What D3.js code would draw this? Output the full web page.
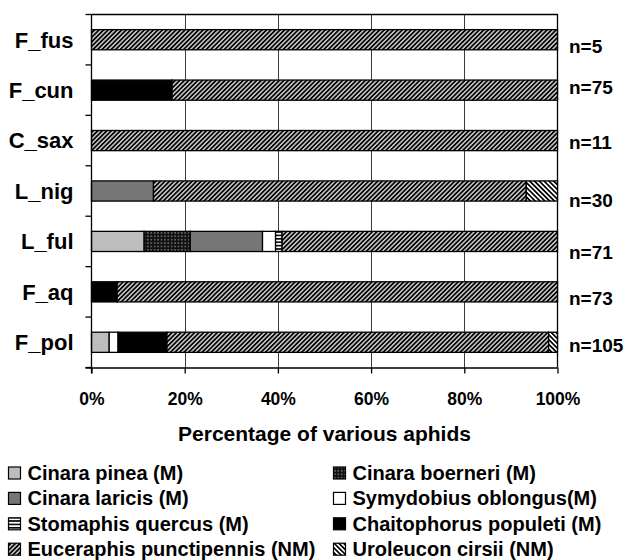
<!DOCTYPE html>
<html>
<head>
<meta charset="utf-8">
<script src="https://cdn.jsdelivr.net/npm/d3@7"></script>
<style>
  html, body { margin: 0; padding: 0; background: #fff; }
  svg { display: block; }
  text { font-family: "Liberation Sans", Arial, Helvetica, sans-serif; font-weight: bold; fill: #000; }
</style>
</head>
<body>
<svg id="chart" width="628" height="560"></svg>
<script>
// ---------------- DATA (percent of aphids per plant) ----------------
const categories = ["F_fus", "F_cun", "C_sax", "L_nig", "L_ful", "F_aq", "F_pol"];
const sampleSizes = [5, 75, 11, 30, 71, 73, 105];
const seriesNames = [
  "Cinara pinea (M)", "Cinara boerneri (M)", "Cinara laricis (M)", "Symydobius oblongus(M)",
  "Stomaphis quercus (M)", "Chaitophorus populeti (M)", "Euceraphis punctipennis (NM)", "Uroleucon cirsii (NM)"
];
const cinaraPinea    = [0, 0, 0, 0, 11.3, 0, 3.8];
const cinaraBoerneri = [0, 0, 0, 0, 9.9, 0, 0];
const cinaraLaricis  = [0, 0, 0, 13.3, 15.5, 0, 0];
const symydobius     = [0, 0, 0, 0, 2.8, 0, 1.9];
const stomaphis      = [0, 0, 0, 0, 1.4, 0, 0];
const chaitophorus   = [0, 17.3, 0, 0, 0, 5.5, 10.5];
const euceraphis     = [100, 82.7, 100, 80.0, 59.1, 94.5, 81.9];
const uroleucon      = [0, 0, 0, 6.7, 0, 0, 1.9];
const xTicks = [0, 20, 40, 60, 80, 100];
const xTitle = "Percentage of various aphids";

const seriesValues = [cinaraPinea, cinaraBoerneri, cinaraLaricis, symydobius, stomaphis, chaitophorus, euceraphis, uroleucon];

// ---------------- LAYOUT ----------------
const plotLeft = 91.5, plotRight = 557.5, plotTop = 14.5, plotBottom = 367.5;
const nLabelDy = [12.8, 3.4, 8, 15.6, 17.2, 12.8, 10]; // hand-placed n= labels in the original

const svg = d3.select("#chart");
const defs = svg.append("defs");

// patterns
function stripePattern(id, angle, period, lw) {
  const p = defs.append("pattern").attr("id", id).attr("patternUnits", "userSpaceOnUse")
    .attr("width", period).attr("height", period).attr("patternTransform", `rotate(${angle})`);
  p.append("rect").attr("width", period).attr("height", period).attr("fill", "#fff");
  p.append("line").attr("x1", period / 2).attr("x2", period / 2).attr("y1", -1).attr("y2", period + 1)
    .attr("stroke", "#000").attr("stroke-width", lw);
}
stripePattern("euceraphis", 45, 3.2, 2.0);
stripePattern("uroleucon", -45, 3.4, 1.7);
{
  const p = defs.append("pattern").attr("id", "stomaphis").attr("patternUnits", "userSpaceOnUse")
    .attr("width", 4).attr("height", 3.4);
  p.append("rect").attr("width", 4).attr("height", 3.4).attr("fill", "#fff");
  p.append("rect").attr("y", 0).attr("width", 4).attr("height", 1.6).attr("fill", "#000");
}
{
  const p = defs.append("pattern").attr("id", "boerneri").attr("patternUnits", "userSpaceOnUse")
    .attr("width", 3.4).attr("height", 3.4);
  p.append("rect").attr("width", 3.4).attr("height", 3.4).attr("fill", "#111");
  p.append("circle").attr("cx", 1.7).attr("cy", 1.7).attr("r", 0.85).attr("fill", "#7a7a7a");
}

const fills = ["#bdbdbd", "url(#boerneri)", "#767676", "#ffffff", "url(#stomaphis)", "#000000", "url(#euceraphis)", "url(#uroleucon)"];

// table for stacking
const table = categories.map((c, i) => {
  const row = { cat: c };
  seriesNames.forEach((s, k) => row[s] = seriesValues[k][i]);
  return row;
});
const stacked = d3.stack().keys(seriesNames)(table);

const x = d3.scaleLinear().domain([0, 100]).range([plotLeft, plotRight]);
const y = d3.scaleBand().domain(categories).range([plotTop, plotBottom]).paddingInner(0.6).paddingOuter(0.3);

// gridlines
svg.append("g").selectAll("line").data(xTicks.slice(1, -1)).join("line")
  .attr("x1", d => Math.round(x(d)) + 0.5).attr("x2", d => Math.round(x(d)) + 0.5)
  .attr("y1", plotTop).attr("y2", plotBottom)
  .attr("stroke", "#3c3c3c").attr("stroke-width", 1);

// frame top + right
svg.append("path").attr("d", `M${plotLeft},${plotTop}H${plotRight}V${plotBottom}`)
  .attr("fill", "none").attr("stroke", "#000").attr("stroke-width", 1.3);

// bars
stacked.forEach((layer, k) => {
  svg.append("g").selectAll("rect")
    .data(layer.filter(d => d[1] - d[0] > 0))
    .join("rect")
    .attr("x", d => x(d[0]))
    .attr("width", d => x(d[1]) - x(d[0]))
    .attr("y", d => y(d.data.cat))
    .attr("height", y.bandwidth())
    .attr("fill", fills[k])
    .attr("stroke", "#000").attr("stroke-width", 1.3);
});

// x axis
const xAxis = svg.append("g").attr("transform", `translate(0,${plotBottom})`)
  .call(d3.axisBottom(x).tickValues(xTicks).tickFormat(d => d + "%").tickSize(6).tickPadding(19).tickSizeOuter(0));
xAxis.select(".domain").attr("stroke", "#000").attr("stroke-width", 1.3).attr("d", `M${plotLeft - 6},0.5H${plotRight}`);
xAxis.selectAll(".tick line").attr("stroke", "#000").attr("stroke-width", 1.3);
xAxis.selectAll(".tick text").style("font-size", "17.5px").style("font-weight", "bold")
  .style("font-family", '"Liberation Sans", Arial, sans-serif').attr("fill", "#000");
xAxis.attr("font-family", null).attr("font-size", null);

// y axis (labels)
const yAxis = svg.append("g").attr("transform", `translate(${plotLeft},0)`)
  .call(d3.axisLeft(y).tickSize(0).tickPadding(18));
yAxis.select(".domain").remove();
yAxis.selectAll(".tick text").style("font-size", "22px").style("font-weight", "bold")
  .style("font-family", '"Liberation Sans", Arial, sans-serif').attr("fill", "#000").attr("dy", "0.36em");
yAxis.attr("font-family", null).attr("font-size", null);

// y axis line and boundary ticks
svg.append("line").attr("x1", plotLeft).attr("x2", plotLeft).attr("y1", plotTop).attr("y2", plotBottom + 6)
  .attr("stroke", "#000").attr("stroke-width", 1.3);
const bounds = d3.range(categories.length + 1).map(i => plotTop + i * y.step());
svg.append("g").selectAll("line").data(bounds).join("line")
  .attr("x1", plotLeft - 6).attr("x2", plotLeft).attr("y1", d => d).attr("y2", d => d)
  .attr("stroke", "#000").attr("stroke-width", 1.3);

// n labels
svg.append("g").selectAll("text").data(categories).join("text")
  .attr("x", 569)
  .attr("y", (c, i) => y(c) + y.bandwidth() / 2 + nLabelDy[i])
  .style("font-size", "19px")
  .text((c, i) => "n=" + sampleSizes[i]);

// x title
svg.append("text").attr("x", (plotLeft + plotRight) / 2).attr("y", 441)
  .attr("text-anchor", "middle").style("font-size", "21px").text(xTitle);

// legend
const legend = svg.append("g");
seriesNames.forEach((s, k) => {
  const col = k % 2, row = Math.floor(k / 2);
  const bx = col === 0 ? 8.5 : 333.5;
  const by = 480 + row * 25.4;
  legend.append("rect").attr("x", bx).attr("y", by - 13).attr("width", 12).attr("height", 12)
    .attr("fill", fills[k]).attr("stroke", "#000").attr("stroke-width", 1.2);
  legend.append("text").attr("x", bx + 19).attr("y", by).style("font-size", "20px").text(s);
});
</script>
</body>
</html>
